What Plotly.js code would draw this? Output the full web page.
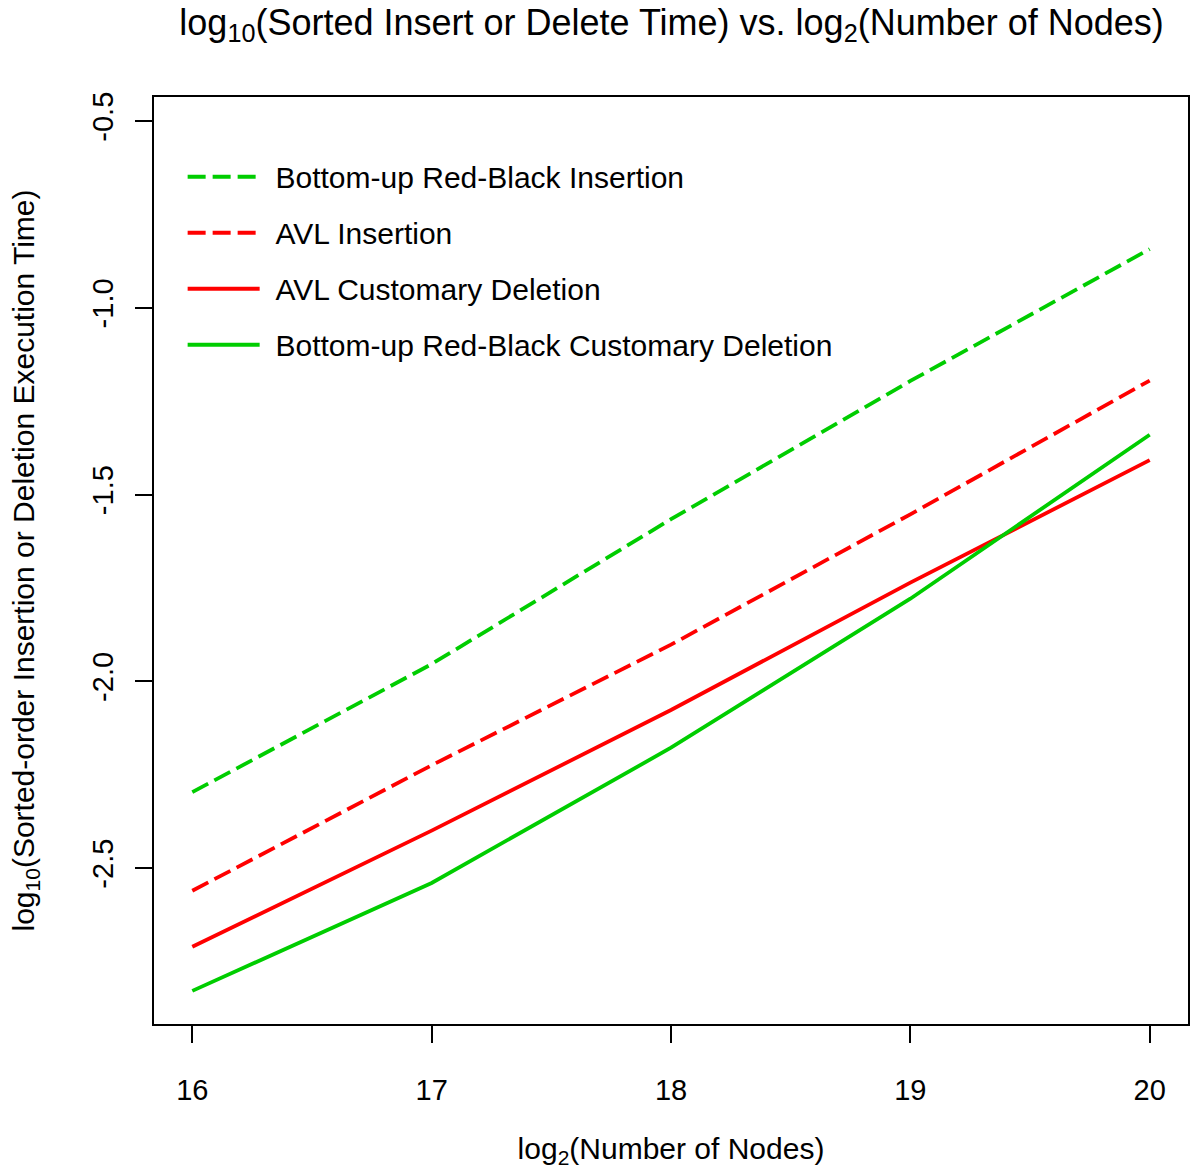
<!DOCTYPE html>
<html>
<head>
<meta charset="utf-8">
<script src="https://cdn.plot.ly/plotly-3.0.1.min.js"></script>
<style>html,body{margin:0;padding:0;background:#fff;}</style>
</head>
<body>
<div id="chart" style="width:1196px;height:1169px;"></div>
<script>
const nodesLog2 = [16, 17, 18, 19, 20];
const rbInsertion = [-2.297, -1.954, -1.566, -1.196, -0.843];
const avlInsertion = [-2.561, -2.225, -1.902, -1.553, -1.195];
const avlDeletion = [-2.711, -2.400, -2.077, -1.736, -1.408];
const rbDeletion = [-2.829, -2.540, -2.178, -1.779, -1.340];
const seriesNames = [
  "Bottom-up Red-Black Insertion",
  "AVL Insertion",
  "AVL Customary Deletion",
  "Bottom-up Red-Black Customary Deletion"
];
const xTicks = [16, 17, 18, 19, 20];
const xTickText = ["16", "17", "18", "19", "20"];
const yTicks = [-0.5, -1.0, -1.5, -2.0, -2.5];
const yTickText = ["-0.5", "-1.0", "-1.5", "-2.0", "-2.5"];

const GREEN = "#00CD00", RED = "#FF0000";
const FONT = "Liberation Sans, Arial, Helvetica, sans-serif";
const GAP = "\u00A0\u200A";

function tr(y, name, color, dash, grp) {
  return {
    x: nodesLog2, y: y, name: GAP + name, type: "scatter", mode: "lines",
    legendgroup: grp,
    line: {color: color, width: 3.8, dash: dash}
  };
}
const data = [
  tr(rbInsertion, seriesNames[0], GREEN, "18px,7px", "a"),
  tr(avlInsertion, seriesNames[1], RED, "18px,7px", "b"),
  tr(avlDeletion, seriesNames[2], RED, "solid", "c"),
  tr(rbDeletion, seriesNames[3], GREEN, "solid", "d")
];

const axisCommon = {
  showgrid: false, zeroline: false, showline: true, mirror: true,
  linecolor: "#000", linewidth: 2, ticks: "outside", ticklen: 17, tickwidth: 2,
  tickcolor: "#000", tickfont: {family: FONT, size: 29, color: "#000"}
};

const layout = {
  width: 1196, height: 1169,
  margin: {l: 154, r: 8, t: 97, b: 145},
  paper_bgcolor: "#fff", plot_bgcolor: "#fff",
  font: {family: FONT, color: "#000"},
  title: {
    text: "log<sub>10</sub>(Sorted Insert or Delete Time) vs. log<sub>2</sub>(Number of Nodes)",
    font: {family: FONT, size: 36, color: "#000"},
    x: 0.5615, xanchor: "center", y: 0.981, yanchor: "middle"
  },
  xaxis: Object.assign({}, axisCommon, {
    range: [15.84, 20.16], tickvals: xTicks, ticktext: xTickText,
    ticklabelstandoff: 22,
    title: {text: "log<sub>2</sub>(Number of Nodes)", font: {family: FONT, size: 30, color: "#000"}, standoff: 36}
  }),
  yaxis: Object.assign({}, axisCommon, {
    range: [-2.9177, -0.4357], tickvals: yTicks, ticktext: yTickText, tickangle: -90,
    ticklabelstandoff: 10,
    title: {text: "log<sub>10</sub>(Sorted-order Insertion or Deletion Execution Time)", font: {family: FONT, size: 30, color: "#000"}, standoff: 44}
  }),
  showlegend: true,
  legend: {
    x: 0.0277, y: 0.942, xanchor: "left", yanchor: "top",
    bgcolor: "rgba(0,0,0,0)", borderwidth: 0,
    font: {family: FONT, size: 30, color: "#000"},
    traceorder: "grouped", tracegroupgap: 14, itemwidth: 72
  }
};

Plotly.newPlot("chart", data, layout, {displayModeBar: false, staticPlot: true});
</script>
</body>
</html>
